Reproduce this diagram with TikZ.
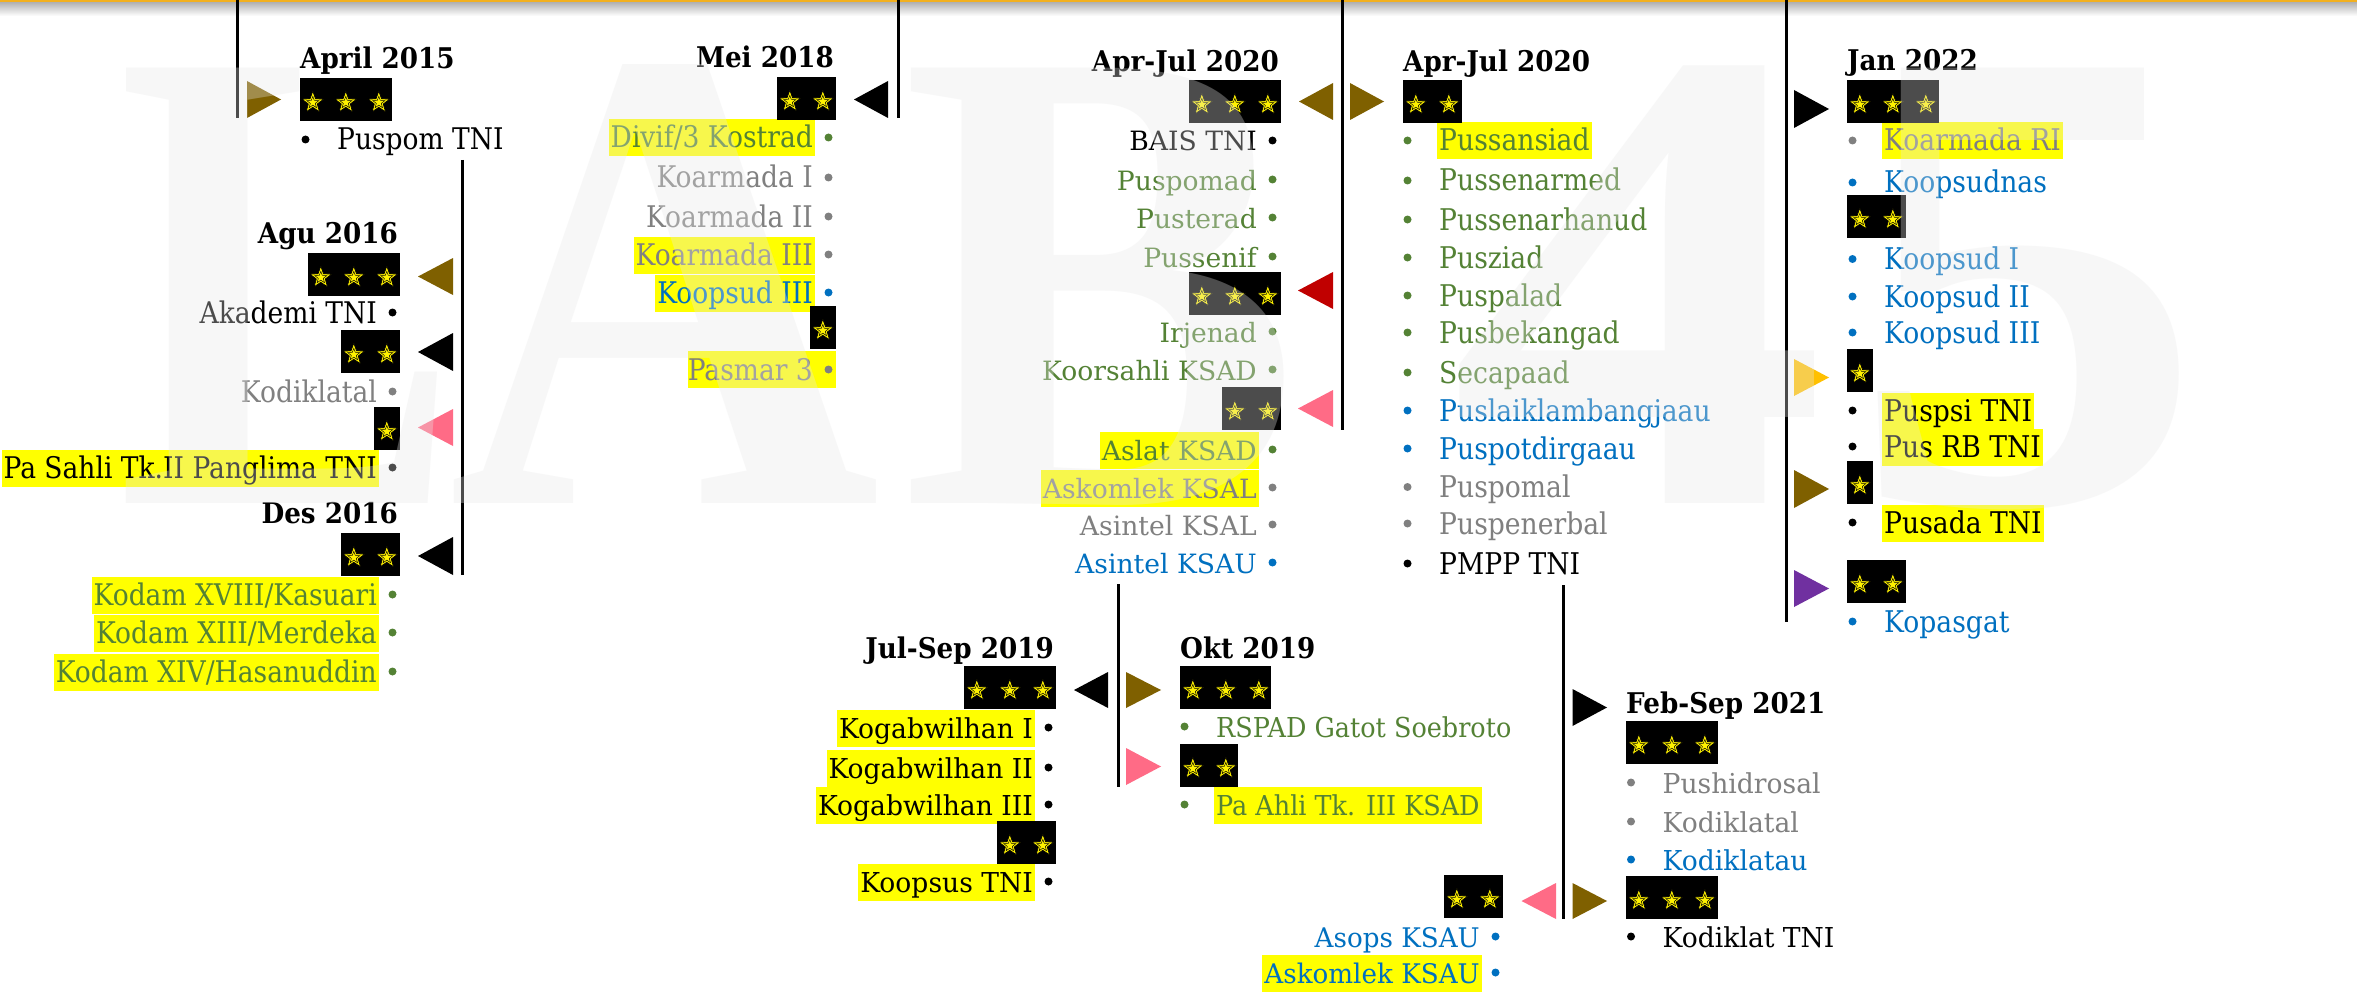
\documentclass[tikz,border=0pt]{standalone}
\usepackage{fontspec}
\setmainfont{Liberation Serif}
\newfontfamily\fA[FakeStretch=0.89]{DejaVu Serif}
\newfontfamily\fE{DejaVu Serif}
\newfontfamily\fH[FakeStretch=0.97]{DejaVu Serif}
\newfontfamily\fHd[FakeStretch=0.93]{DejaVu Serif}
\newfontfamily\fHead[FakeStretch=0.92]{DejaVu Serif Bold}
\definecolor{tgreen}{RGB}{84,130,53}
\definecolor{tgray}{RGB}{128,128,128}
\definecolor{tblue}{RGB}{0,112,192}
\definecolor{tbrown}{RGB}{127,96,0}
\definecolor{tpink}{RGB}{255,107,134}
\definecolor{tred}{RGB}{192,0,0}
\definecolor{torange}{RGB}{255,192,0}
\definecolor{tpurple}{RGB}{112,48,160}
\definecolor{tgold}{RGB}{242,176,30}
\definecolor{wmgray}{RGB}{232,232,232}
\definecolor{hlyellow}{RGB}{255,255,0}
\newcommand{\setfs}[1]{\fontsize{#1}{#1}\selectfont}
\tikzset{
  txt/.style={inner ysep=0pt, inner xsep=2pt, text height=28.5pt, text depth=8.5pt},
  hl/.style={fill=hlyellow},
  dot/.style={circle, inner sep=0pt, minimum size=8pt},
  head/.style={inner sep=0pt, text=black, font=\fHead\setfs{28.5}},
  sbox/.style={fill=black, inner sep=0pt, minimum height=42.5pt, anchor=north west},
  vline/.style={line width=3pt, black},
  wm/.style={anchor=base, inner sep=0pt, text=wmgray, text opacity=0.33, font=\setfs{665}\bfseries}
}
\newcommand{\ritem}[6]{%
  \node[txt, anchor=base east, text=#4, #6] (#1) at ({#2+2},{#3}) {#5};
  \node[dot, fill=#4] (#1d) at ({#2+15.5},{#3-10.5}) {};}
\newcommand{\litem}[6]{%
  \node[txt, anchor=base west, text=#4, #6] (#1) at ({#2-2},{#3}) {#5};
  \node[dot, fill=#4] (#1d) at ({#2-31.5},{#3-10.5}) {};}
\newcommand{\starat}[2]{%
  \begin{scope}[shift={({#1},{#2})}, yscale=-1]
    \filldraw[fill=yellow, draw=black, line width=0.7pt] (90:11.5) -- (126:4.7) -- (162:11.5) -- (198:4.7) -- (234:11.5) -- (270:4.7) -- (306:11.5) -- (342:4.7) -- (18:11.5) -- (54:4.7) -- cycle;
    \draw[black, line width=0.45pt] (90:6.3) -- (126:2.6) -- (162:6.3) -- (198:2.6) -- (234:6.3) -- (270:2.6) -- (306:6.3) -- (342:2.6) -- (18:6.3) -- (54:2.6) -- cycle;
  \end{scope}}
\newcommand{\rankbox}[5]{%
  \node[sbox, minimum width=#5pt] (#1) at (#2,#3) {};
  \foreach \i in {1,...,#4}{\starat{#2+12.8+33*(\i-1)}{#3+24.6}}}
\newcommand{\trir}[5]{\fill[#1] (#2,#4) -- (#2,#5) -- (#3,{(#4+#5)/2}) -- cycle;}
\newcommand{\tril}[5]{\fill[#1] (#3,#4) -- (#3,#5) -- (#2,{(#4+#5)/2}) -- cycle;}
\begin{document}
\begin{tikzpicture}[x=1pt, y=-1pt]
\useasboundingbox (0,0) rectangle (2357,995);
\fill[white] (0,0) rectangle (2357,995);
% top bar
\shade[top color=black!30, bottom color=white] (0,2.5) rectangle (2357,16);
\fill[tgold] (0,0) rectangle (2357,2.5);
% spines
\coordinate (l1a) at (237,0);   \coordinate (l1b) at (237,118);
\coordinate (l2a) at (462,160); \coordinate (l2b) at (462,575);
\coordinate (l3a) at (898,0);   \coordinate (l3b) at (898,118);
\coordinate (l4a) at (1342,0);  \coordinate (l4b) at (1342,430);
\coordinate (l5a) at (1786,0);  \coordinate (l5b) at (1786,622);
\coordinate (l6a) at (1118,584); \coordinate (l6b) at (1118,787);
\coordinate (l7a) at (1563,585); \coordinate (l7b) at (1563,919);
\foreach \n in {1,...,7}{\draw[vline] (l\n a) -- (l\n b);}

% ---- April 2015
\trir{tbrown}{247}{281}{81}{118}
\node[head, anchor=base west] (hA) at (300,69) {April 2015};
\begin{scope}[every node/.append style={font=\fA\setfs{29.8}}]
\litem{iA1}{337}{150}{black}{Puspom TNI}{}
\end{scope}
\rankbox{bA}{300}{78}{3}{91.5}

% ---- Agu 2016 / Des 2016
\node[head, anchor=base east] (hB) at (398,243) {Agu 2016};
\tril{tbrown}{418}{453}{258}{295}
\tril{black}{418}{453}{333}{371}
\tril{tpink}{418}{453}{409}{446}
\node[head, anchor=base east] (hC) at (398,523) {Des 2016};
\tril{black}{418}{453}{537}{575}
\begin{scope}[every node/.append style={font=\fA\setfs{29.8}}]
\ritem{iB1}{377}{323}{black}{Akademi TNI}{}
\ritem{iB2}{377}{402}{tgray}{Kodiklatal}{}
\ritem{iB3}{377}{478}{black}{Pa Sahli Tk.II Panglima TNI}{hl}
\ritem{iC1}{377}{605}{tgreen}{Kodam XVIII/Kasuari}{hl}
\ritem{iC2}{377}{643}{tgreen}{Kodam XIII/Merdeka}{hl}
\ritem{iC3}{377}{682}{tgreen}{Kodam XIV/Hasanuddin}{hl}
\end{scope}
\rankbox{bB1}{308}{253}{3}{92}
\rankbox{bB2}{341}{330}{2}{59}
\rankbox{bB3}{374}{407}{1}{26}
\rankbox{bC}{341}{533}{2}{59}

% ---- Mei 2018
\node[head, anchor=base east] (hD) at (834,68) {Mei 2018};
\tril{black}{854}{888}{81}{118}
\node[fill=hlyellow, inner sep=0pt, minimum width=148.5pt, minimum height=37pt, anchor=north west] (hlD6) at (687.5,351) {};
\begin{scope}[every node/.append style={font=\fA\setfs{29.8}}]
\ritem{iD1}{813}{148}{tgreen}{Divif/3 Kostrad}{hl}
\ritem{iD2}{813}{188}{tgray}{Koarmada I}{}
\ritem{iD3}{813}{227}{tgray}{Koarmada II}{}
\ritem{iD4}{813}{265}{tgray}{Koarmada III}{hl}
\ritem{iD5}{813}{303}{tblue}{Koopsud III}{hl}
\ritem{iD6}{813}{380}{tgray}{Pasmar 3}{}
\end{scope}
\rankbox{bD1}{777}{77}{2}{59}
\rankbox{bD2}{810}{306}{1}{26}

% ---- Apr-Jul 2020 (left)
\node[head, anchor=base east] (hE) at (1279,72) {Apr-Jul 2020};
\tril{tbrown}{1299}{1333}{83}{120}
\tril{tred}{1298}{1333}{272}{309}
\tril{tpink}{1298}{1333}{390}{427}
\begin{scope}[every node/.append style={font=\fE\setfs{26.6}}]
\ritem{iE1}{1257}{151}{black}{BAIS TNI}{}
\ritem{iE2}{1257}{190}{tgreen}{Puspomad}{}
\ritem{iE3}{1257}{228}{tgreen}{Pusterad}{}
\ritem{iE4}{1257}{267}{tgreen}{Pussenif}{}
\ritem{iE5}{1257}{342}{tgreen}{Irjenad}{}
\ritem{iE6}{1257}{380}{tgreen}{Koorsahli KSAD}{}
\ritem{iE7}{1257}{460}{tgreen}{Aslat KSAD}{hl}
\ritem{iE8}{1257}{498}{tgray}{Askomlek KSAL}{hl}
\ritem{iE9}{1257}{535}{tgray}{Asintel KSAL}{}
\ritem{iE10}{1257}{573}{tblue}{Asintel KSAU}{}
\end{scope}
\rankbox{bE1}{1189}{80}{3}{92}
\rankbox{bE2}{1189}{272}{3}{92}
\rankbox{bE3}{1222}{387}{2}{59}

% ---- Apr-Jul 2020 (right)
\trir{tbrown}{1350}{1384}{83}{120}
\node[head, anchor=base west] (hF) at (1403,72) {Apr-Jul 2020};
\begin{scope}[every node/.append style={font=\fA\setfs{29.9}}]
\litem{iF1}{1439}{151}{tgreen}{Pussansiad}{hl}
\litem{iF2}{1439}{191}{tgreen}{Pussenarmed}{}
\litem{iF3}{1439}{230}{tgreen}{Pussenarhanud}{}
\litem{iF4}{1439}{268}{tgreen}{Pusziad}{}
\litem{iF5}{1439}{306}{tgreen}{Puspalad}{}
\litem{iF6}{1439}{343}{tgreen}{Pusbekangad}{}
\litem{iF7}{1439}{383}{tgreen}{Secapaad}{}
\litem{iF8}{1439}{421}{tblue}{Puslaiklambangjaau}{}
\litem{iF9}{1439}{459}{tblue}{Puspotdirgaau}{}
\litem{iF10}{1439}{497.5}{tgray}{Puspomal}{}
\litem{iF11}{1439}{534}{tgray}{Puspenerbal}{}
\litem{iF12}{1439}{574}{black}{PMPP TNI}{}
\end{scope}
\rankbox{bF}{1403}{80}{2}{59}

% ---- Jan 2022
\trir{black}{1794}{1829}{90}{128}
\trir{torange}{1794}{1829}{359}{396}
\trir{tbrown}{1794}{1829}{470}{508}
\trir{tpurple}{1794}{1829}{570}{607}
\node[head, anchor=base west] (hG) at (1847,71) {Jan 2022};
\begin{scope}[every node/.append style={font=\fA\setfs{29.9}}]
\litem{iG1}{1884}{151}{tgray}{Koarmada RI}{hl}
\litem{iG2}{1884}{193}{tblue}{Koopsudnas}{}
\litem{iG3}{1884}{269.5}{tblue}{Koopsud I}{}
\litem{iG4}{1884}{307}{tblue}{Koopsud II}{}
\litem{iG5}{1884}{343}{tblue}{Koopsud III}{}
\litem{iG6}{1884}{421}{black}{Puspsi TNI}{hl}
\litem{iG7}{1884}{457}{black}{Pus RB TNI}{hl}
\litem{iG8}{1884}{533}{black}{Pusada TNI}{hl}
\litem{iG9}{1884}{632}{tblue}{Kopasgat}{}
\end{scope}
\rankbox{bG1}{1847}{80}{3}{91.5}
\rankbox{bG2}{1847}{195}{2}{59}
\rankbox{bG3}{1847}{349}{1}{26}
\rankbox{bG4}{1847}{461}{1}{26}
\rankbox{bG5}{1847}{560}{2}{59}

% ---- Jul-Sep 2019 / Okt 2019
\node[head, anchor=base east] (hH) at (1054,658) {Jul-Sep 2019};
\tril{black}{1074}{1108}{672}{708}
\trir{tbrown}{1126}{1161}{672}{708}
\trir{tpink}{1126}{1161}{748}{785}
\node[head, anchor=base west] (hH2) at (1180,658) {Okt 2019};
\begin{scope}[every node/.append style={font=\fH\setfs{27.4}}]
\ritem{iH1}{1033}{738}{black}{Kogabwilhan I}{hl}
\ritem{iH2}{1033}{778}{black}{Kogabwilhan II}{hl}
\ritem{iH3}{1033}{815}{black}{Kogabwilhan III}{hl}
\ritem{iH4}{1033}{892}{black}{Koopsus TNI}{hl}
\end{scope}
\begin{scope}[every node/.append style={font=\fHd\setfs{27.4}}]
\litem{iH5}{1216}{737}{tgreen}{RSPAD Gatot Soebroto}{}
\litem{iH6}{1216}{815}{tgreen}{Pa Ahli Tk. III KSAD}{hl}
\end{scope}
\rankbox{bH1}{964}{666}{3}{92}
\rankbox{bH2}{997}{821}{2}{59}
\rankbox{bH3}{1180}{666}{3}{91}
\rankbox{bH4}{1180}{744}{2}{58}

% ---- Feb-Sep 2021
\trir{black}{1572.5}{1607}{689}{726}
\tril{tpink}{1521.5}{1556}{883}{919}
\trir{tbrown}{1572.5}{1607}{883}{919}
\node[head, anchor=base west] (hI) at (1626,713) {Feb-Sep 2021};
\begin{scope}[every node/.append style={font=\fH\setfs{27.4}}]
\litem{iI1}{1662.5}{793}{tgray}{Pushidrosal}{}
\litem{iI2}{1662.5}{832}{tgray}{Kodiklatal}{}
\litem{iI3}{1662.5}{870}{tblue}{Kodiklatau}{}
\litem{iI4}{1662.5}{947}{black}{Kodiklat TNI}{}
\end{scope}
\begin{scope}[every node/.append style={font=\fH\setfs{27}}]
\ritem{iI5}{1480}{947}{tblue}{Asops KSAU}{}
\ritem{iI6}{1480}{983}{tblue}{Askomlek KSAU}{hl}
\end{scope}
\rankbox{bI1}{1626}{721}{3}{92}
\rankbox{bI2}{1626}{876}{3}{92}
\rankbox{bI3}{1444}{875}{2}{59}

% ---- watermark
\node[wm, xscale=0.77] (wmL) at (288,503) {L};
\node[wm, xscale=0.90] (wmA) at (665,503) {A};
\node[wm, xscale=0.90] (wmB) at (1101,503) {B};
\node[wm, xscale=1.14] (wm4) at (1639,503) {4};
\node[wm, xscale=1.07] (wm5) at (2027,503) {5};
\end{tikzpicture}
\end{document}
